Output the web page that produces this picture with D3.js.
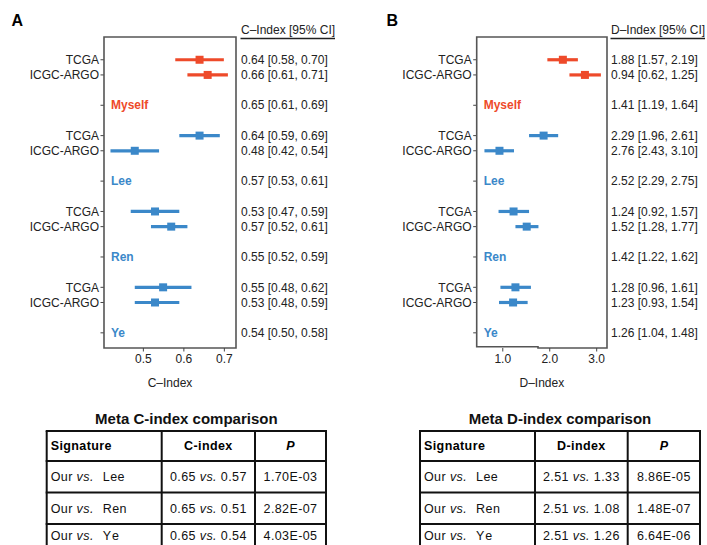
<!DOCTYPE html>
<html>
<head>
<meta charset="utf-8">
<script src="https://cdn.jsdelivr.net/npm/d3@7"></script>
<style>
  body { margin: 0; background: #fff; }
  svg { display: block; font-family: "Liberation Sans", Arial, sans-serif; }
</style>
</head>
<body>
<div id="chart"></div>
<script>
// --- data ---
const signatures = ["Myself", "Lee", "Ren", "Ye"];
const cohorts = ["TCGA", "ICGC-ARGO"];

// C-index: estimate / lower / upper per signature x cohort (TCGA, ICGC-ARGO)
const cEst = [0.64, 0.66, 0.64, 0.48, 0.53, 0.57, 0.55, 0.53];
const cLo  = [0.58, 0.61, 0.59, 0.42, 0.47, 0.52, 0.48, 0.48];
const cHi  = [0.70, 0.71, 0.69, 0.54, 0.59, 0.61, 0.62, 0.59];
const cText = [
  "0.64 [0.58, 0.70]", "0.66 [0.61, 0.71]", "0.65 [0.61, 0.69]",
  "0.64 [0.59, 0.69]", "0.48 [0.42, 0.54]", "0.57 [0.53, 0.61]",
  "0.53 [0.47, 0.59]", "0.57 [0.52, 0.61]", "0.55 [0.52, 0.59]",
  "0.55 [0.48, 0.62]", "0.53 [0.48, 0.59]", "0.54 [0.50, 0.58]"
];
const cTicks = [0.5, 0.6, 0.7];

// D-index as plotted
const dEst = [2.29, 2.76, 1.88, 0.94, 1.24, 1.52, 1.28, 1.23];
const dLo  = [1.96, 2.43, 1.57, 0.62, 0.92, 1.28, 0.96, 0.93];
const dHi  = [2.61, 3.10, 2.19, 1.25, 1.57, 1.77, 1.61, 1.54];
const dText = [
  "1.88 [1.57, 2.19]", "0.94 [0.62, 1.25]", "1.41 [1.19, 1.64]",
  "2.29 [1.96, 2.61]", "2.76 [2.43, 3.10]", "2.52 [2.29, 2.75]",
  "1.24 [0.92, 1.57]", "1.52 [1.28, 1.77]", "1.42 [1.22, 1.62]",
  "1.28 [0.96, 1.61]", "1.23 [0.93, 1.54]", "1.26 [1.04, 1.48]"
];
const dTicks = [1.0, 2.0, 3.0];

// meta comparison tables
const tableRows = ["Lee", "Ren", "Ye"];
const cMetaOur = "0.65", cMetaOther = ["0.57", "0.51", "0.54"];
const cMetaP = ["1.70E-03", "2.82E-07", "4.03E-05"];
const dMetaOur = "2.51", dMetaOther = ["1.33", "1.08", "1.26"];
const dMetaP = ["8.86E-05", "1.48E-07", "6.64E-06"];

const RED = "#ee4a2a", BLUE = "#3b88c9";
const sigColor = s => s === "Myself" ? RED : BLUE;

const svg = d3.select("#chart").append("svg").attr("width", 707).attr("height", 545);
svg.append("rect").attr("width", 707).attr("height", 545).attr("fill", "#fff");

// row index: TCGA=5g, ICGC=5g+1, pooled label=5g+3
const y = d3.scaleLinear().domain([-1.5, 19]).range([37, 348]);

function drawForest(o) {
  const g = svg.append("g");
  const x = d3.scaleLinear().domain(o.domain).range([o.left, o.right]);

  g.append("text").attr("x", o.letterX).attr("y", 26)
    .attr("font-size", 16).attr("font-weight", "bold").text(o.letter);

  // items
  const items = [];
  signatures.forEach((s, gi) => {
    cohorts.forEach((c, ci) => {
      const k = gi * 2 + ci;
      items.push({ sig: s, cohort: c, row: gi * 5 + ci, est: o.est[k], lo: o.lo[k], hi: o.hi[k] });
    });
  });

  // y ticks + labels
  const rows = [];
  signatures.forEach((s, gi) => { rows.push(gi * 5, gi * 5 + 1, gi * 5 + 3); });
  g.selectAll(".yt").data(rows).join("line")
    .attr("x1", o.left - 3.5).attr("x2", o.left)
    .attr("y1", r => y(r)).attr("y2", r => y(r))
    .attr("stroke", "#444").attr("stroke-width", 1);
  g.selectAll(".yl").data(items).join("text")
    .attr("x", o.left - 5).attr("y", d => y(d.row)).attr("dy", "0.35em")
    .attr("text-anchor", "end").attr("font-size", 12).attr("fill", "#222")
    .text(d => d.cohort);

  // group labels inside plot
  g.selectAll(".gl").data(signatures).join("text")
    .attr("x", o.left + 7).attr("y", (s, i) => y(i * 5 + 3)).attr("dy", "0.35em")
    .attr("font-size", 12).attr("font-weight", "bold").attr("fill", sigColor)
    .text(s => s);

  // CI lines and squares
  g.selectAll(".ci").data(items).join("line")
    .attr("x1", d => x(d.lo)).attr("x2", d => x(d.hi))
    .attr("y1", d => y(d.row)).attr("y2", d => y(d.row))
    .attr("stroke", d => sigColor(d.sig)).attr("stroke-width", 3.2);
  g.selectAll(".pt").data(items).join("rect")
    .attr("x", d => x(d.est) - 4).attr("y", d => y(d.row) - 4)
    .attr("width", 8).attr("height", 8).attr("fill", d => sigColor(d.sig));

  // box
  const bx0 = o.left, bx1 = o.right, by0 = y(-1.5), by1 = y(19);
  g.append("path")
    .attr("d", `M${bx0},${by0}H${bx1}V${by1}${o.bottomStep ? `H${o.bottomStep}v-1.2` : ""}H${bx0}Z`)
    .attr("fill", "none").attr("stroke", "#555").attr("stroke-width", 1.6);

  // x axis
  const ax = g.append("g").attr("transform", `translate(0,${by1})`)
    .call(d3.axisBottom(x).tickValues(o.ticks).tickFormat(d3.format(".1f")).tickSize(3.5).tickPadding(3));
  ax.select(".domain").remove();
  ax.selectAll(".tick line").attr("stroke", "#444");
  ax.selectAll(".tick text").attr("font-size", 12).attr("fill", "#222").attr("font-family", null);

  g.append("text").attr("x", (bx0 + bx1) / 2).attr("y", 387)
    .attr("text-anchor", "middle").attr("font-size", 12).attr("fill", "#222")
    .text(o.xLabel);

  // right column
  g.append("text").attr("x", o.textX).attr("y", 30).attr("dy", "0.35em")
    .attr("font-size", 12).attr("fill", "#222").text(o.header);
  g.append("line").attr("x1", o.textX - 0.5).attr("x2", o.textX + 94)
    .attr("y1", 38.5).attr("y2", 38.5).attr("stroke", "#222").attr("stroke-width", 1.5);
  g.selectAll(".rt").data(o.text).join("text")
    .attr("x", o.textX).attr("y", (t, i) => y(Math.floor(i / 3) * 5 + [0, 1, 3][i % 3]))
    .attr("dy", "0.35em").attr("font-size", 12).attr("fill", "#222")
    .text(t => t);
}

drawForest({ letter: "A", letterX: 11.5, left: 104, right: 236, domain: [0.404, 0.73],
  est: cEst, lo: cLo, hi: cHi, text: cText, ticks: cTicks, xLabel: "C\u2013Index",
  header: "C\u2013Index [95% CI]", textX: 241 });
drawForest({ letter: "B", letterX: 386.5, left: 476.7, right: 607, domain: [0.455, 3.23],
  est: dEst, lo: dLo, hi: dHi, text: dText, ticks: dTicks, xLabel: "D\u2013Index",
  header: "D\u2013Index [95% CI]", textX: 611, bottomStep: 538 });

function drawTable(o) {
  const g = svg.append("g");
  g.append("text").attr("x", (o.cols[0] + o.cols[3]) / 2).attr("y", 424)
    .attr("text-anchor", "middle").attr("font-size", 15).attr("font-weight", "bold")
    .attr("fill", "#111").text(o.title);
  const rowsY = [431, 461, 492.5, 524, 547];
  g.selectAll(".hl").data(rowsY).join("line")
    .attr("x1", o.cols[0] - 1).attr("x2", o.cols[3] + 1)
    .attr("y1", d => d).attr("y2", d => d)
    .attr("stroke", "#111").attr("stroke-width", 2);
  g.selectAll(".vl").data(o.cols).join("line")
    .attr("x1", d => d).attr("x2", d => d).attr("y1", 431).attr("y2", 547)
    .attr("stroke", "#111").attr("stroke-width", 2);

  const cy = i => (rowsY[i] + rowsY[i + 1]) / 2;
  const c2 = (o.cols[1] + o.cols[2]) / 2, c3 = (o.cols[2] + o.cols[3]) / 2;
  const fs = 12.5;
  g.append("text").attr("x", o.cols[0] + 4).attr("y", cy(0)).attr("dy", "0.35em")
    .attr("font-size", fs).attr("font-weight", "bold").attr("letter-spacing", 0.4).text("Signature");
  g.append("text").attr("x", c2).attr("y", cy(0)).attr("dy", "0.35em").attr("text-anchor", "middle")
    .attr("font-size", fs).attr("font-weight", "bold").attr("letter-spacing", 0.4).text(o.metric);
  g.append("text").attr("x", c3).attr("y", cy(0)).attr("dy", "0.35em").attr("text-anchor", "middle")
    .attr("font-size", fs).attr("font-weight", "bold").attr("font-style", "italic").text("P");

  tableRows.forEach((name, i) => {
    const t1 = g.append("text").attr("x", o.cols[0] + 4).attr("y", cy(i + 1)).attr("dy", "0.35em")
      .attr("font-size", fs).attr("letter-spacing", 0.4).attr("fill", "#111");
    t1.append("tspan").text("Our ");
    t1.append("tspan").attr("font-style", "italic").text("vs.");
    t1.append("tspan").attr("dx", 9).attr("letter-spacing", name === "Ye" ? 2 : 0.4).text(name);
    const t2 = g.append("text").attr("x", c2).attr("y", cy(i + 1)).attr("dy", "0.35em")
      .attr("text-anchor", "middle").attr("font-size", fs).attr("letter-spacing", 0.4).attr("fill", "#111");
    t2.append("tspan").text(o.our + " ");
    t2.append("tspan").attr("font-style", "italic").text("vs.");
    t2.append("tspan").text(" " + o.other[i]);
    g.append("text").attr("x", c3).attr("y", cy(i + 1)).attr("dy", "0.35em")
      .attr("text-anchor", "middle").attr("font-size", fs).attr("letter-spacing", 0.4).attr("fill", "#111")
      .text(o.p[i]);
  });
}

drawTable({ title: "Meta C-index comparison", cols: [46.7, 161.7, 255, 326], metric: "C-index",
  our: cMetaOur, other: cMetaOther, p: cMetaP });
drawTable({ title: "Meta D-index comparison", cols: [420, 535, 627.7, 700], metric: "D-index",
  our: dMetaOur, other: dMetaOther, p: dMetaP });
</script>
</body>
</html>
